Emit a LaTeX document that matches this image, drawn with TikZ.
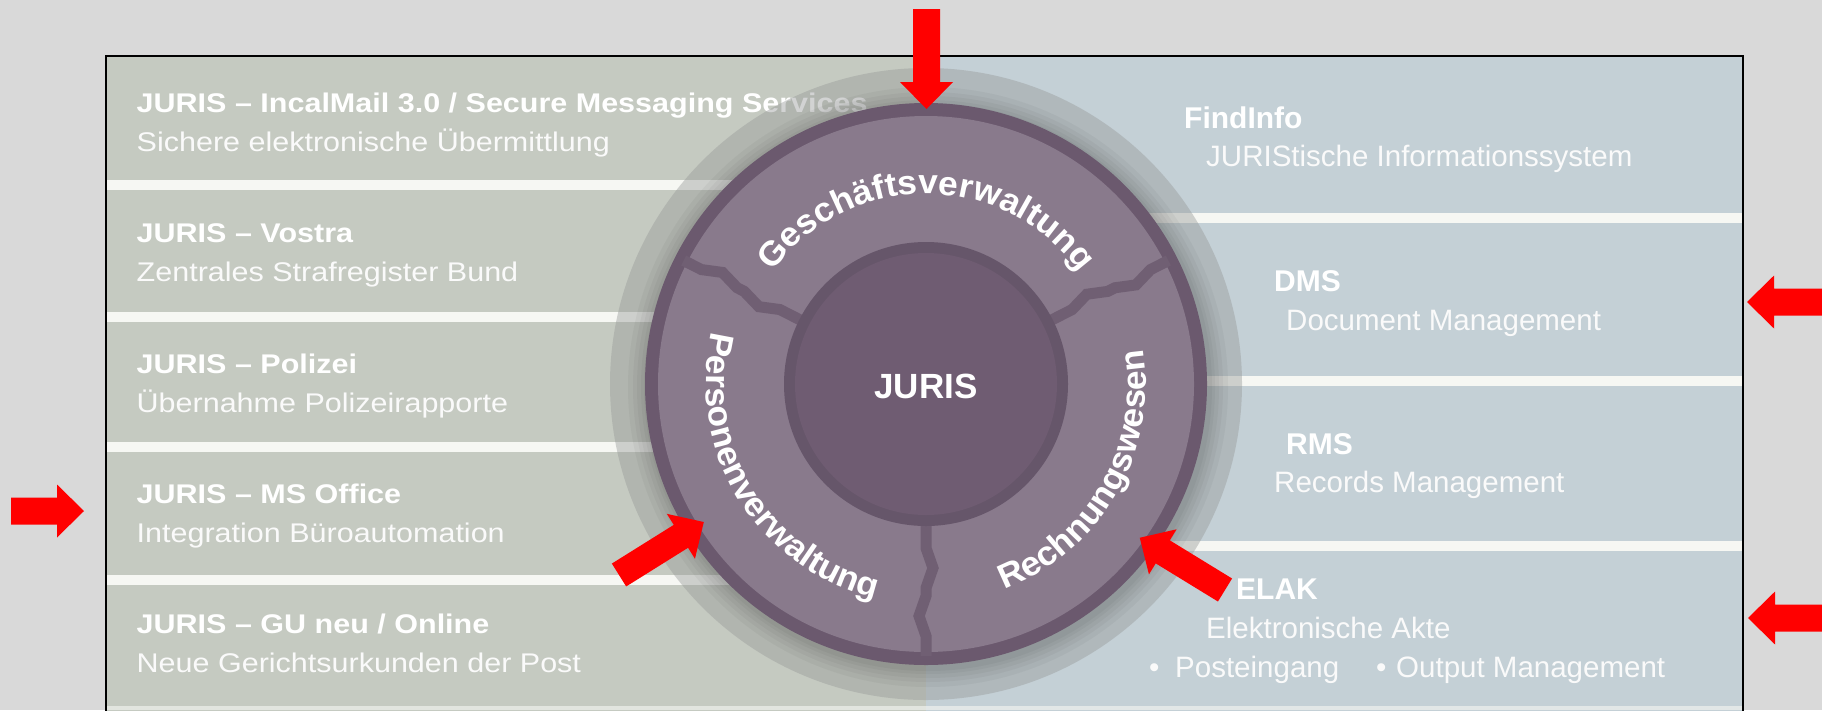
\documentclass[tikz,border=0pt]{standalone}
\usepackage{fontspec}
\setmainfont{Liberation Sans}
\newfontfamily\widefont[FakeStretch=1.13]{Liberation Sans}
\newfontfamily\ringfamily[FakeStretch=1.04]{Liberation Sans}
\usetikzlibrary{decorations.text}
\definecolor{bggrey}{HTML}{D9D9D9}
\definecolor{pleft}{RGB}{197,202,193}
\definecolor{pright}{RGB}{196,208,214}
\definecolor{haloc}{RGB}{150,152,152}
\definecolor{rimc}{RGB}{107,89,110}
\definecolor{segc}{RGB}{137,122,140}
\definecolor{spokec}{RGB}{112,95,115}
\definecolor{innerring}{RGB}{102,86,106}
\definecolor{innerdisk}{RGB}{111,92,114}
\definecolor{sepwhite}{RGB}{246,247,243}
\definecolor{arrowred}{RGB}{255,0,0}
\newcommand\ringfont{\ringfamily\bfseries\fontsize{34}{34}\selectfont}
\newcommand\jurisarrow[3]{%
  \fill[arrowred, shift={(#1)}, rotate=#2]
    (0pt,-13.5pt) -- (#3pt-27pt,-13.5pt) -- (#3pt-27pt,-26.5pt) -- (#3pt,0pt)
    -- (#3pt-27pt,26.5pt) -- (#3pt-27pt,13.5pt) -- (0pt,13.5pt) -- cycle;}
\begin{document}
\begin{tikzpicture}[x=1pt,y=-1pt,
  ltitle/.style={anchor=base west, inner sep=0pt, text=white, font=\widefont\bfseries\fontsize{27}{30}\selectfont},
  lsub/.style={anchor=base west, inner sep=0pt, text=white!96!gray, font=\widefont\fontsize{27}{30}\selectfont},
  rtitle/.style={anchor=base west, inner sep=0pt, text=white, font=\bfseries\fontsize{30}{32}\selectfont},
  rsub/.style={anchor=base west, inner sep=0pt, text=white!96!gray, font=\fontsize{29.5}{32}\selectfont},
  sepline/.style={sepwhite, line width=10pt},
  spoke/.style={spokec, line width=11pt, line join=miter},
  ringlabel/.style={decorate, decoration={text along path, text={|\ringfont|#1}, text align=center, text color=white}}
]
\useasboundingbox (0,0) rectangle (1822,710);
\clip (0,0) rectangle (1822,710);
\fill[bggrey] (0,0) rectangle (1822,710);
% panel halves
\fill[pleft] (106,56) rectangle (926,715);
\fill[pright] (926,56) rectangle (1743,715);
% separators
\coordinate (c) at (926,384);
\foreach \yy in {185,317,447,580} {\draw[sepline] (106,\yy) -- (926,\yy);}
\foreach \yy in {218,381,546} {\draw[sepline] (926,\yy) -- (1743,\yy);}
\draw[sepwhite, line width=4pt, opacity=0.6] (106,708) -- (1743,708);
% left texts
\node[ltitle] (t1) at (136.5,112) {JURIS – IncalMail 3.0 / Secure Messaging Services};
\node[lsub] (s1) at (136.5,151) {Sichere elektronische Übermittlung};
\node[ltitle] (t2) at (136.5,242) {JURIS – Vostra};
\node[lsub] (s2) at (136.5,281) {Zentrales Strafregister Bund};
\node[ltitle] (t3) at (136.5,373) {JURIS – Polizei};
\node[lsub] (s3) at (136.5,412) {Übernahme Polizeirapporte};
\node[ltitle] (t4) at (136.5,503) {JURIS – MS Office};
\node[lsub] (s4) at (136.5,542) {Integration Büroautomation};
\node[ltitle] (t5) at (136.5,633) {JURIS – GU neu / Online};
\node[lsub] (s5) at (136.5,672) {Neue Gerichtsurkunden der Post};
% right texts
\node[rtitle] (r1) at (1184,128) {FindInfo};
\node[rsub] (q1) at (1206,166) {JURIStische Informationssystem};
\node[rtitle] (r2) at (1274,291) {DMS};
\node[rsub] (q2) at (1286,330) {Document Management};
\node[rtitle] (r3) at (1286,454) {RMS};
\node[rsub] (q3) at (1274,492) {Records Management};
\node[rtitle] (r4) at (1236,599) {ELAK};
\node[rsub] (q4) at (1206,638) {Elektronische Akte};
\node[rsub] (b1) at (1149,677) {•};
\node[rsub] (q5) at (1175,677) {Posteingang};
\node[rsub] (b2) at (1376,677) {•};
\node[rsub] (q6) at (1396,677) {Output Management};
% halo and wheel
\fill[haloc, opacity=0.42] (c) circle[radius=316pt];
\foreach \rr in {300,295,291,287,284} {\fill[black, opacity=0.035, shift={(c)}] (2pt,-3pt) circle[radius=\rr pt];}
\fill[rimc] (c) circle[radius=281pt];
\fill[segc] (c) circle[radius=268pt];
\foreach \ang in {-90,153,27} {
  \draw[spoke, shift={(c)}, rotate=\ang]
    (135pt,0pt) -- (164pt,0pt) -- (184pt,7pt) -- (204pt,0pt) -- (212pt,0pt)
    -- (232pt,-7pt) -- (252pt,0pt) -- (272pt,0pt);
}
\fill[innerring] (c) circle[radius=142pt];
\fill[innerdisk] (c) circle[radius=131pt];
\node[font=\bfseries\fontsize{35}{35}\selectfont, text=white, inner sep=0pt] (juris) at (926,386) {JURIS};
\path[ringlabel={Geschäftsverwaltung}, shift={(c)}] (160:190pt) arc[start angle=160, end angle=20, radius=190pt];
\path[ringlabel={Personenverwaltung}, shift={(c)}] (151.5:220pt) arc[start angle=151.5, end angle=271.5, radius=220pt];
\path[ringlabel={Rechnungswesen}, shift={(c)}] (-90:220pt) arc[start angle=-90, end angle=30, radius=220pt];
% panel border
\draw[black, line width=1.5pt] (106,56) rectangle (1743,720);
% red arrows
\coordinate (aTop) at (926.5,9);
\coordinate (aLeft) at (11,511);
\coordinate (aRight1) at (1822,302);
\coordinate (aRight2) at (1822,618);
\coordinate (aDiagL) at (619,575);
\coordinate (aDiagR) at (1225,590);
\jurisarrow{aTop}{-90}{100}
\jurisarrow{aLeft}{0}{73}
\jurisarrow{aRight1}{180}{75}
\jurisarrow{aRight2}{180}{74}
\jurisarrow{aDiagL}{32}{100}
\jurisarrow{aDiagR}{148.5}{100}
\end{tikzpicture}
\end{document}
